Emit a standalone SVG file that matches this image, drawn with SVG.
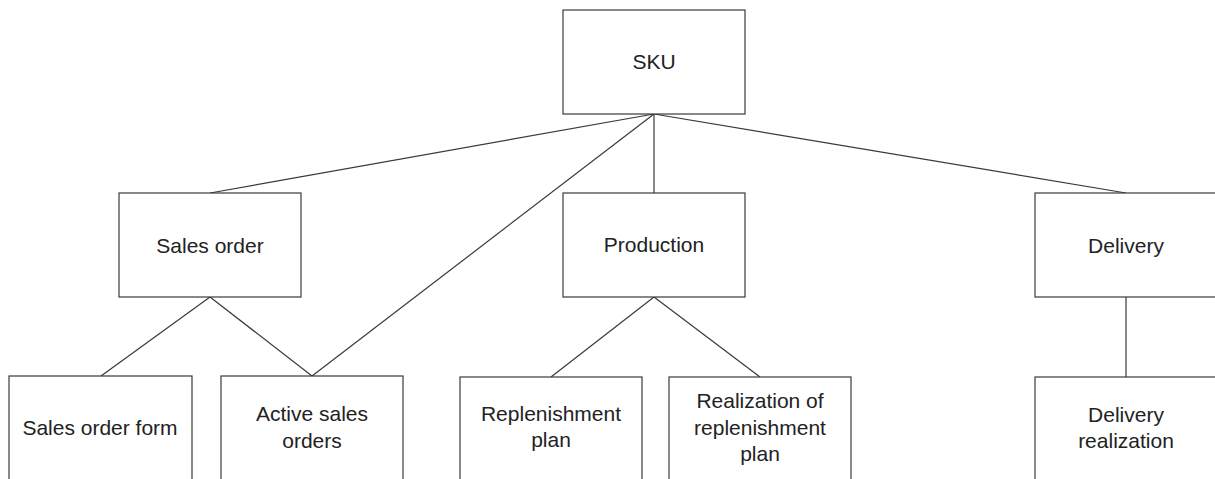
<svg xmlns="http://www.w3.org/2000/svg" width="1215" height="479" viewBox="0 0 1215 479">
<style>
.box{fill:#fff;stroke:#3a3a3a;stroke-width:1.2}
.lbl{font-family:"Liberation Sans",Arial,sans-serif;font-size:21px;fill:#222;text-anchor:middle}
.con{stroke:#3a3a3a;stroke-width:1.2;fill:none}
</style>
<rect width="1215" height="479" fill="#fff"/>
<g id="connectors">
<line class="con" x1="654" y1="114" x2="210" y2="193"/>
<line class="con" x1="654" y1="114" x2="312" y2="376"/>
<line class="con" x1="654" y1="114" x2="654" y2="193"/>
<line class="con" x1="654" y1="114" x2="1126" y2="193"/>
<line class="con" x1="210" y1="297" x2="101" y2="376"/>
<line class="con" x1="210" y1="297" x2="312" y2="376"/>
<line class="con" x1="654" y1="297" x2="551" y2="377"/>
<line class="con" x1="654" y1="297" x2="760" y2="377"/>
<line class="con" x1="1126" y1="297" x2="1126" y2="377"/>
</g>
<g id="sku"><rect class="box" x="563" y="10" width="182" height="104"/><text class="lbl" x="654" y="69">SKU</text></g>
<g id="sales-order"><rect class="box" x="119" y="193" width="182" height="104"/><text class="lbl" x="210" y="253">Sales order</text></g>
<g id="production"><rect class="box" x="563" y="193" width="182" height="104"/><text class="lbl" x="654" y="252">Production</text></g>
<g id="delivery"><rect class="box" x="1035" y="193" width="182" height="104"/><text class="lbl" x="1126" y="253">Delivery</text></g>
<g id="sales-order-form"><rect class="box" x="9" y="376" width="183" height="110"/><text class="lbl" x="100" y="435">Sales order form</text></g>
<g id="active-sales-orders"><rect class="box" x="221" y="376" width="182" height="110"/><text class="lbl" x="312" y="421">Active sales</text><text class="lbl" x="312" y="448">orders</text></g>
<g id="replenishment-plan"><rect class="box" x="460" y="377" width="182" height="110"/><text class="lbl" x="551" y="421">Replenishment</text><text class="lbl" x="551" y="447">plan</text></g>
<g id="realization"><rect class="box" x="669" y="377" width="182" height="110"/><text class="lbl" x="760" y="408">Realization of</text><text class="lbl" x="760" y="435">replenishment</text><text class="lbl" x="760" y="461">plan</text></g>
<g id="delivery-realization"><rect class="box" x="1035" y="377" width="182" height="110"/><text class="lbl" x="1126" y="422">Delivery</text><text class="lbl" x="1126" y="448">realization</text></g>
</svg>
